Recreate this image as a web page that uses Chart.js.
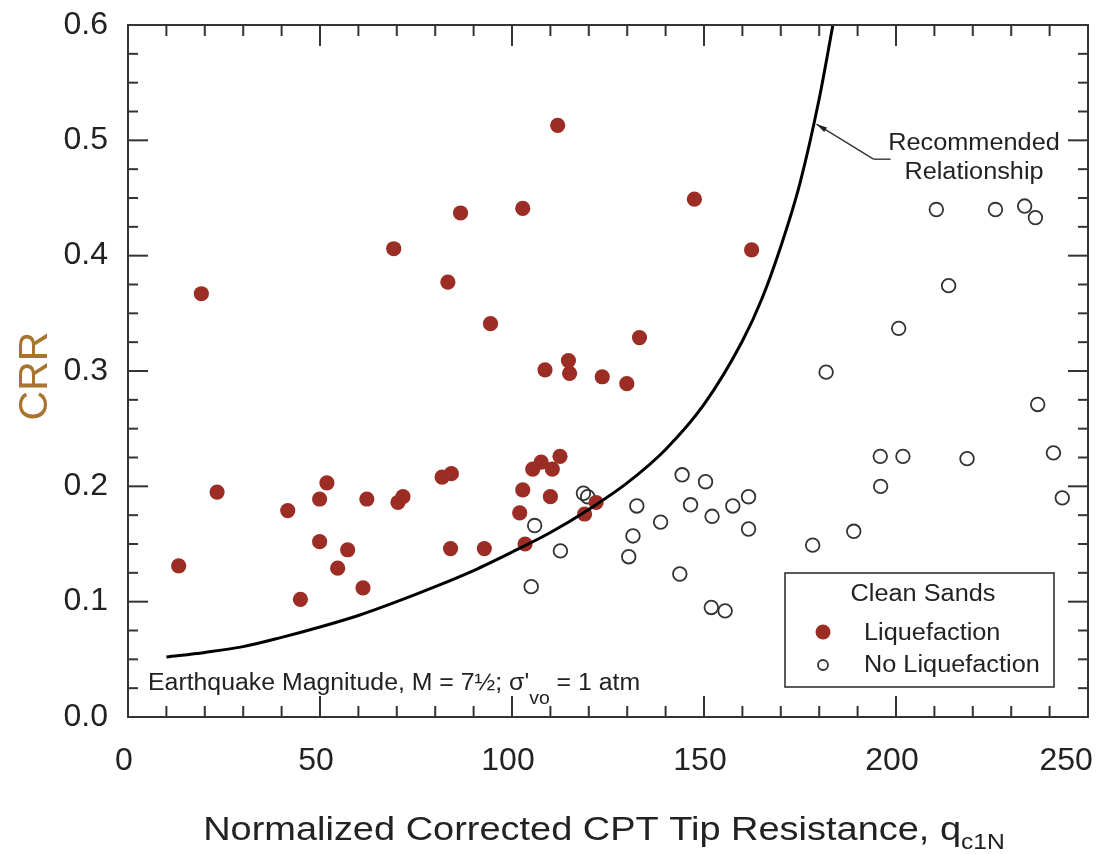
<!DOCTYPE html>
<html>
<head>
<meta charset="utf-8">
<title>CRR vs qc1N</title>
<script src="https://cdn.jsdelivr.net/npm/chart.js@4.4.1/dist/chart.umd.min.js"></script>
<style>
  html, body { margin: 0; padding: 0; background: #fff; }
  canvas { display: block; }
</style>
</head>
<body>
<canvas id="crrChart" width="1102" height="854"></canvas>
<script>
// Liquefaction case histories (filled dots)
const liqQ = [13.2, 19.1, 23.2, 41.6, 44.9, 49.9, 51.8, 49.9, 54.6, 57.2, 61.2, 62.2, 69.2, 70.3, 71.6,
  81.8, 83.3, 84.2, 84.0, 86.6, 92.8, 94.4, 102.0, 102.8, 102.8, 103.4, 105.4, 107.6, 108.6, 110.0,
  110.5, 111.9, 112.5, 114.7, 115.0, 118.9, 121.9, 123.5, 129.9, 133.2, 147.5, 162.4];
const liqCRR = [0.131, 0.367, 0.195, 0.179, 0.102, 0.189, 0.203, 0.152, 0.129, 0.145, 0.112, 0.189, 0.406, 0.186, 0.191,
  0.208, 0.377, 0.211, 0.146, 0.437, 0.146, 0.341, 0.177, 0.197, 0.441, 0.150, 0.215, 0.221, 0.301, 0.191,
  0.215, 0.513, 0.226, 0.309, 0.298, 0.176, 0.186, 0.295, 0.289, 0.329, 0.449, 0.405];

// No liquefaction case histories (open circles)
const noQ = [105.0, 105.9, 112.6, 118.6, 119.7, 130.4, 131.5, 132.5, 138.7, 143.7, 144.3, 146.5, 150.4, 151.9,
  152.1, 155.5, 157.5, 161.6, 161.6, 178.3, 181.8, 189.0, 195.9, 196.0, 200.7, 201.8, 210.5, 213.7, 218.5,
  225.9, 233.5, 236.3, 236.9, 241.0, 243.3];
const noCRR = [0.113, 0.166, 0.144, 0.194, 0.191, 0.139, 0.157, 0.183, 0.169, 0.124, 0.210, 0.184, 0.204, 0.095,
  0.174, 0.092, 0.183, 0.191, 0.163, 0.149, 0.299, 0.161, 0.226, 0.200, 0.337, 0.226, 0.440, 0.374, 0.224,
  0.440, 0.443, 0.433, 0.271, 0.229, 0.190];

// Recommended relationship
const curveQ = [10, 20, 30, 40, 50, 60, 70, 80, 90, 100, 110, 120, 130, 140, 150, 160, 165, 170, 175, 180, 184];
const curveCRR = [0.052, 0.056, 0.061, 0.069, 0.078, 0.088, 0.100, 0.113, 0.127, 0.143, 0.160, 0.180, 0.203,
  0.232, 0.271, 0.326, 0.362, 0.408, 0.463, 0.536, 0.608];

// Axis ticks
const xTicks = [0, 50, 100, 150, 200, 250];
const yTicks = [0.0, 0.1, 0.2, 0.3, 0.4, 0.5, 0.6];

const FONT = '"Liberation Sans", Arial, Helvetica, sans-serif';
const INK = '#222';
const RED = '#9b2d25';

function toPoints(xs, ys) {
  return xs.map((v, i) => ({ x: v, y: ys[i] }));
}

// Draw text squeezed/stretched horizontally like the source picture
function wideText(ctx, str, x, y, size, sx, align) {
  ctx.save();
  ctx.font = size + 'px ' + FONT;
  ctx.translate(x, y);
  ctx.scale(sx, 1);
  ctx.textAlign = align || 'left';
  ctx.textBaseline = 'alphabetic';
  ctx.fillText(str, 0, 0);
  const w = ctx.measureText(str).width * sx;
  ctx.restore();
  return w;
}

function seg(ctx, x1, y1, x2, y2) {
  ctx.beginPath();
  ctx.moveTo(x1, y1);
  ctx.lineTo(x2, y2);
  ctx.stroke();
}

// Frame, inward ticks, labels, legend box and notes
const overlay = {
  id: 'overlay',
  afterDatasetsDraw(chart) {
    const { ctx, chartArea: a, scales: { x, y } } = chart;
    ctx.save();
    ctx.strokeStyle = '#333';
    ctx.fillStyle = INK;

    // ticks on all four sides
    ctx.lineWidth = 2;
    for (let v = 0; v <= 250; v += 10) {
      const px = x.getPixelForValue(v);
      const len = xTicks.includes(v) ? 21 : 11;
      seg(ctx, px, a.bottom, px, a.bottom - len);
      seg(ctx, px, a.top, px, a.top + len);
    }
    for (let i = 0; i <= 24; i++) {
      const py = y.getPixelForValue(i * 0.025);
      const len = i % 4 === 0 ? 20 : 10;
      seg(ctx, a.left, py, a.left + len, py);
      seg(ctx, a.right, py, a.right - len, py);
    }
    ctx.strokeRect(a.left, a.top, a.right - a.left, a.bottom - a.top);

    // axis titles
    const midX = (a.left + a.right) / 2;
    ctx.font = '33px ' + FONT;
    const mainT = 'Normalized Corrected CPT Tip Resistance, q';
    const sx = 1.15;
    const wMain = ctx.measureText(mainT).width * sx;
    ctx.font = '22px ' + FONT;
    const wSub = ctx.measureText('c1N').width * 1.12;
    let tx = midX - (wMain + wSub) / 2 - 4;
    tx += wideText(ctx, mainT, tx, 840, 33, sx);
    wideText(ctx, 'c1N', tx, 849, 22, 1.12);

    ctx.save();
    ctx.translate(47, 376);
    ctx.rotate(-Math.PI / 2);
    ctx.font = '41px ' + FONT;
    ctx.fillStyle = '#a8742e';
    ctx.textAlign = 'center';
    ctx.fillText('CRR', 0, 0);
    ctx.restore();

    // magnitude note
    let nx = 148;
    nx += wideText(ctx, 'Earthquake Magnitude, M = 7\u00bd; \u03c3\'', nx, 690, 23, 1.08);
    nx += wideText(ctx, 'vo', nx, 704, 18, 1.08);
    wideText(ctx, ' = 1 atm', nx, 690, 23, 1.08);

    // recommended relationship label with leader arrow
    wideText(ctx, 'Recommended', 974, 150, 23, 1.1, 'center');
    wideText(ctx, 'Relationship', 974, 179, 23, 1.1, 'center');
    const ax = x.getPixelForValue(179.3), ay = y.getPixelForValue(0.514);
    const bx = ax + 57, by = ay + 35;
    ctx.lineWidth = 1.4;
    seg(ctx, ax, ay, bx, by);
    seg(ctx, bx, by, bx + 17, by);
    const ang = Math.atan2(ay - by, ax - bx);
    ctx.beginPath();
    ctx.moveTo(ax, ay);
    ctx.lineTo(ax - 11 * Math.cos(ang - 0.25), ay - 11 * Math.sin(ang - 0.25));
    ctx.lineTo(ax - 11 * Math.cos(ang + 0.25), ay - 11 * Math.sin(ang + 0.25));
    ctx.closePath();
    ctx.fill();

    // legend box
    ctx.lineWidth = 1.6;
    ctx.strokeRect(785, 573, 269, 114);
    wideText(ctx, 'Clean Sands', 923, 601, 23, 1.1, 'center');
    wideText(ctx, 'Liquefaction', 864, 640, 23, 1.1);
    wideText(ctx, 'No Liquefaction', 864, 672, 23, 1.1);
    ctx.fillStyle = RED;
    ctx.beginPath();
    ctx.arc(823, 632, 7.5, 0, Math.PI * 2);
    ctx.fill();
    ctx.lineWidth = 1.8;
    ctx.beginPath();
    ctx.arc(823, 665, 5, 0, Math.PI * 2);
    ctx.stroke();

    ctx.restore();
  }
};

new Chart(document.getElementById('crrChart').getContext('2d'), {
  type: 'scatter',
  data: {
    datasets: [
      {
        type: 'line',
        label: 'Recommended Relationship',
        data: toPoints(curveQ, curveCRR),
        borderColor: '#000',
        borderWidth: 3,
        pointRadius: 0,
        fill: false,
        cubicInterpolationMode: 'monotone'
      },
      {
        label: 'Liquefaction',
        data: toPoints(liqQ, liqCRR),
        backgroundColor: RED,
        borderColor: RED,
        borderWidth: 0,
        pointRadius: 7.6
      },
      {
        label: 'No Liquefaction',
        data: toPoints(noQ, noCRR),
        backgroundColor: 'rgba(0,0,0,0)',
        borderColor: '#333',
        borderWidth: 1.8,
        pointRadius: 6.8
      }
    ]
  },
  options: {
    responsive: false,
    animation: false,
    layout: { padding: { left: 0, top: 25, right: 14, bottom: 0 } },
    plugins: {
      legend: { display: false },
      tooltip: { enabled: false }
    },
    scales: {
      x: {
        type: 'linear',
        min: 0,
        max: 250,
        grid: { display: false, drawTicks: false },
        border: { display: false },
        afterBuildTicks: s => { s.ticks = xTicks.map(v => ({ value: v })); },
        ticks: {
          color: INK,
          padding: 25,
          labelOffset: -4,
          maxRotation: 0,
          font: { size: 32, family: FONT },
          callback: v => v === 250 ? '250\u2007\u2007' : String(v)
        },
        afterFit: s => { s.height = 137; s.paddingLeft = 0; s.paddingRight = 0; }
      },
      y: {
        type: 'linear',
        min: 0,
        max: 0.6,
        grid: { display: false, drawTicks: false },
        border: { display: false },
        afterBuildTicks: s => { s.ticks = yTicks.map(v => ({ value: v })); },
        ticks: {
          color: INK,
          padding: 20,
          font: { size: 32, family: FONT },
          callback: v => Number(v).toFixed(1)
        },
        afterFit: s => { s.width = 128; s.paddingTop = 0; s.paddingBottom = 0; }
      }
    }
  },
  plugins: [overlay]
});
</script>
</body>
</html>
